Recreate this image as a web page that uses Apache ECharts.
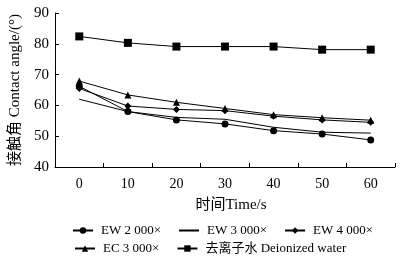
<!DOCTYPE html>
<html><head><meta charset="utf-8">
<script src="https://cdn.jsdelivr.net/npm/echarts@6/dist/echarts.min.js"></script>
<style>html,body{margin:0;padding:0;background:#fff}#c{width:400px;height:267px}</style>
</head><body><div id="c"></div>
<script>
var categories = ['0','10','20','30','40','50','60'];
var ew2000 = [66.2, 58.0, 55.3, 54.0, 51.8, 50.7, 48.8];
var ew3000 = [62.0, 58.0, 56.1, 55.5, 52.9, 51.3, 51.0];
var ew4000 = [65.5, 59.8, 58.7, 58.3, 56.5, 55.3, 54.5];
var ec3000 = [67.9, 63.4, 61.0, 59.0, 57.0, 56.0, 55.2];
var water = [82.4, 80.3, 79.1, 79.1, 79.1, 78.1, 78.1];
var names = ['EW 2 000×','EW 3 000×','EW 4 000×','EC 3 000×','去离子水 Deionized water'];
var yTicks = {min:40, max:90, interval:10};
var font = '"Liberation Serif","Noto Sans CJK SC",serif';
function s(name, data, symbol, size){
  return {name:name, type:'line', data:data, symbol:symbol, symbolSize:size,
    lineStyle:{color:'#000', width:1}, itemStyle:{color:'#000'}, animation:false};
}
var chart = echarts.init(document.getElementById('c'), null, {renderer:'canvas'});
var legendCommon = {padding:0, itemWidth:20, itemHeight:8, itemGap:17,
     textStyle:{fontFamily:font, fontSize:13, color:'#000', padding:[0,0,0,3]}};
chart.setOption({
  backgroundColor:'#fff',
  textStyle:{fontFamily:font},
  grid:{left:53, right:5, top:13, bottom:100},
  xAxis:{type:'category', data:categories, boundaryGap:true,
    name:'时间Time/s', nameLocation:'middle', nameGap:31,
    nameTextStyle:{fontFamily:font, fontSize:15, color:'#000', padding:[0,0,0,12]},
    axisLine:{lineStyle:{color:'#000', width:1}},
    axisTick:{show:true, inside:true, length:4, lineStyle:{color:'#000'}},
    axisLabel:{fontFamily:font, fontSize:14, color:'#000', margin:10},
    splitLine:{show:false}},
  yAxis:{type:'value', min:yTicks.min, max:yTicks.max, interval:yTicks.interval,
    name:'接触角 Contact angle/(°)', nameLocation:'middle', nameGap:32,
    nameTextStyle:{fontFamily:font, fontSize:15, color:'#000'},
    axisLine:{show:true, lineStyle:{color:'#000', width:1}},
    axisTick:{show:true, inside:true, length:4, lineStyle:{color:'#000'}},
    axisLabel:{fontFamily:font, fontSize:15, color:'#000', margin:6},
    splitLine:{show:false}},
  legend:[
    Object.assign({data:[names[0], {name:names[1], itemStyle:{opacity:0}}, names[2]], top:224, left:72}, legendCommon),
    Object.assign({data:names.slice(3), top:242, left:74}, legendCommon)
  ],
  series:[
    s(names[0], ew2000, 'circle', 7),
    s(names[1], ew3000, 'none', 0),
    s(names[2], ew4000, 'diamond', 7),
    s(names[3], ec3000, 'triangle', 7),
    s(names[4], water, 'rect', 8)
  ]
});
</script></body></html>
